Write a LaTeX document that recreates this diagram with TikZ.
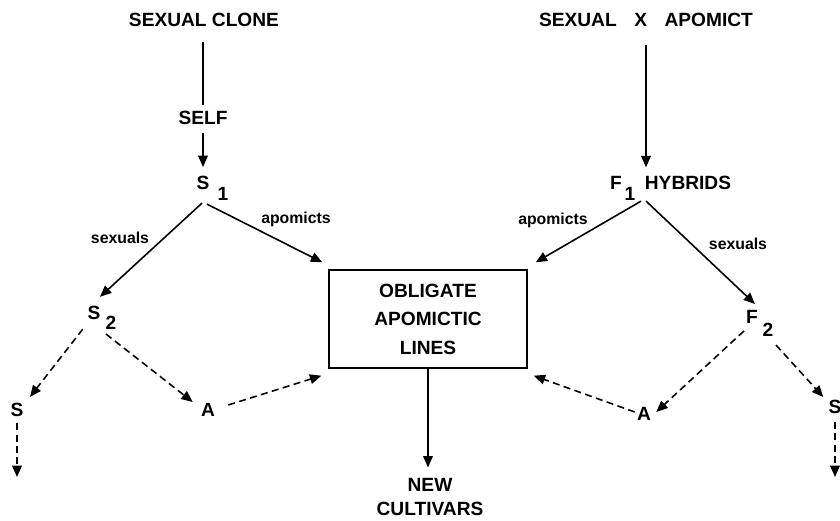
\documentclass[tikz,border=0pt]{standalone}
\usepackage{fontspec}
\setmainfont{Liberation Sans}
\usepackage{tikz}
\usetikzlibrary{arrows,arrows.meta}

\begin{document}
\begin{tikzpicture}[x=0.02cm,y=-0.02cm]
 \tikzstyle{word}=[inner sep=0pt, font=\bfseries\fontsize{10.9}{12}\selectfont]
 \tikzstyle{tag}=[inner sep=0pt, font=\bfseries\fontsize{9}{10}\selectfont]
 \tikzstyle{pass}=[line width=0.9pt, -{Triangle[length=6.5pt,width=5.5pt]}]
 \tikzstyle{maybe}=[pass, dash pattern=on 4pt off 2.5pt]
 \useasboundingbox (0,0) rectangle (840,521);
 \node[word] at (204,20) (clone) {SEXUAL CLONE};
 \node[word] at (646,20) (cross) {SEXUAL\hspace{10pt}X\hspace{10pt}APOMICT};
 \node[word] at (203,118) (self) {SELF};
 \node[word] at (203,183) (s1) {S};
 \node[word] at (223,194) (s1n) {1};
 \node[word] at (616,183) (f1) {F};
 \node[word] at (630,194) (f1n) {1};
 \node[word] at (688,183) (hyb) {HYBRIDS};
 \node[word] at (94,313) (s2) {S};
 \node[word] at (111,323) (s2n) {2};
 \node[word] at (752,317) (f2) {F};
 \node[word] at (768,330) (f2n) {2};
 \node[word] at (17,410) (sl) {S};
 \node[word] at (208,410) (al) {A};
 \node[word] at (644,414) (ar) {A};
 \node[word] at (835,407) (sr) {S};
 \node[draw, line width=0.8pt, minimum width=3.96cm, minimum height=1.96cm, align=center,
  font=\bfseries\fontsize{10.9}{16.2}\selectfont] at (428,319) (lines)
  {OBLIGATE\\APOMICTIC\\LINES};
 \node[word, align=center, font=\bfseries\fontsize{10.9}{14.2}\selectfont] at (430,497) (cultivars)
  {NEW\\CULTIVARS};
 \node[tag] at (120,238) (sexl) {sexuals};
 \node[tag] at (296,219) (apol) {apomicts};
 \node[tag] at (553,220) (apor) {apomicts};
 \node[tag] at (738,244) (sexr) {sexuals};
 \coordinate (slend) at (17,477);
 \coordinate (srend) at (835,477);
 \draw[line width=0.9pt, shorten <=8.5pt, shorten >=3.4pt] (clone.south -| self) -- (self.north);
 \draw[pass, shorten <=4.5pt, shorten >=5pt] (self.south) -- (self.south |- s1.north);
 \draw[pass, shorten <=10pt, shorten >=5pt] (cross.south) -- (cross.south |- f1.north);
 \draw[pass] ([shift={(-1,13)}]s1.south) -- ([shift={(6,-9)}]s2.north);
 \draw[pass] ([shift={(4,14)}]s1.south) -- ([shift={(-6,-7)}]lines.north west);
 \draw[pass] ([shift={(-3.5,11)}]hyb.south west) -- ([shift={(8,-7)}]lines.north east);
 \draw[pass] ([shift={(1.5,11)}]hyb.south west) -- ([shift={(3,-6)}]f2.north);
 \draw[maybe] ([shift={(-4.5,9)}]s2.south west) -- ([shift={(13,-6)}]sl.north);
 \draw[maybe] ([shift={(-5,4)}]s2n.south) -- ([shift={(-8,-8)}]al.west);
 \draw[maybe] ([shift={(13,-5)}]al.east) -- ([shift={(-7,7)}]lines.south west);
 \draw[maybe, shorten <=3.4pt] (sl.south) -- (slend);
 \draw[maybe] ([shift={(-8,7)}]f2.south) -- ([shift={(5,-2)}]ar.east);
 \draw[maybe] ([shift={(8,8)}]f2n.south) -- ([shift={(-5,-10)}]sr.west);
 \draw[maybe] ([shift={(-2,-2)}]ar.west) -- ([shift={(6,7)}]lines.south east);
 \draw[maybe, shorten <=4.5pt] (sr.south) -- (srend);
 \draw[pass, shorten >=5.7pt] (lines.south) -- (lines.south |- cultivars.north);
\end{tikzpicture}
\end{document}
